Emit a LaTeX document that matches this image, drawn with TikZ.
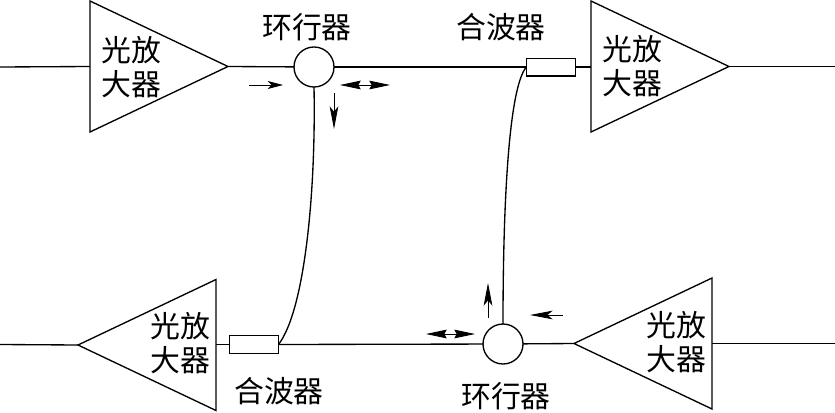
\documentclass[tikz,border=0pt]{standalone}
\usepackage{fontspec}
\newfontfamily\cjkfont{Noto Sans CJK SC}
\usetikzlibrary{shapes.geometric,arrows.meta}

\begin{document}
\begin{tikzpicture}[
    x=0.3mm,y=-0.3mm,
    amp/.style  = {isosceles triangle,isosceles triangle stretches,draw,line width=0.4mm,
                   inner sep=0pt,outer sep=0pt,minimum width=39.3mm,minimum height=41.4mm,
                   anchor=apex},
    circ/.style = {circle,draw,line width=0.4mm,inner sep=0pt,outer sep=0pt,minimum size=12mm},
    wdm/.style  = {rectangle,draw,line width=0.4mm,inner sep=0pt,outer sep=0pt,
                   minimum width=14.7mm,minimum height=5.3mm},
    lbl/.style  = {font=\cjkfont\fontsize{25.5}{29}\selectfont,inner sep=0pt,align=center},
    ln/.style   = {line width=0.4mm},
    fl/.style   = {-{Stealth[length=6.8mm,width=2.6mm,inset=1.6mm]},line width=0.25mm},
    fs/.style   = {-{Stealth[length=4.6mm,width=2.4mm,inset=1.2mm]},line width=0.25mm},
    dfl/.style  = {{Stealth[length=6.2mm,width=2.6mm,inset=0.7mm]}-{Stealth[length=6.2mm,width=2.6mm,inset=0.7mm]},
                   line width=0.25mm},
  ]
  \useasboundingbox (0,0) rectangle (835,412);

  % amplifiers
  \node[amp] (amp1) at (228,66.5) {};
  \node[amp] (amp2) at (729,66.5) {};
  \node[amp,shape border rotate=180] (amp3) at (78,345) {};
  \node[amp,shape border rotate=180] (amp4) at (574,343.5) {};

  \node[lbl] (t1) at (131,67)  {光放\\大器};
  \node[lbl] (t2) at (632,66)  {光放\\大器};
  \node[lbl] (t3) at (180,343) {光放\\大器};
  \node[lbl] (t4) at (676,342) {光放\\大器};

  % circulators and couplers
  \node[circ] (c1) at (314,67)  {};
  \node[circ] (c2) at (503,344) {};
  \node[wdm] (w1) at (551,67)  {};
  \node[wdm] (w2) at (254,344.5) {};

  \node[lbl] (l1) at (307,27)  {环行器};
  \node[lbl] (l2) at (501,27)  {合波器};
  \node[lbl] (l3) at (279,391) {合波器};
  \node[lbl] (l4) at (506,396) {环行器};

  \coordinate (in1) at (0,67);
  \coordinate (out1) at (835,66.5);
  \coordinate (in2) at (0,344.5);
  \coordinate (out2) at (835,343.5);

  \draw[ln] (in1) -- (amp1.lower side);
  \draw[ln] (amp1.apex) -- (c1);
  \draw[ln] (c1) -- (w1);
  \draw[ln] (w1.east) -- (w1.east -| amp2.lower side);
  \draw[ln] (amp2.apex) -- (out1);

  \draw[ln] (in2) -- (amp3.apex);
  \draw[ln] (w2.west -| amp3.lower side) -- (w2.west);
  \draw[ln] (w2.east) -- (c2);
  \draw[ln] (c2) -- (amp4.apex);
  \draw[ln] (amp4.lower side) -- (out2);

  % fibres between the two lines
  \draw[ln] (c1.south) .. controls (316,190) and (305,310) .. (w2.east);
  \draw[ln] (c2.north) .. controls (503,190) and (510,85) .. (w1.west);

  % signal directions
  \coordinate (a1) at (249,85);  \coordinate (b1) at (283,85);
  \coordinate (a2) at (340,85);  \coordinate (b2) at (390,85);
  \coordinate (a3) at (334,93);  \coordinate (b3) at (334,129);
  \coordinate (a4) at (488,318); \coordinate (b4) at (488,283);
  \coordinate (a5) at (563,315); \coordinate (b5) at (530,315);
  \coordinate (a6) at (426,334); \coordinate (b6) at (475,334);
  \draw[fs] (a1) -- (b1);
  \foreach \x/\y in {a3/b3,a4/b4,a5/b5} \draw[fl] (\x) -- (\y);
  \foreach \x/\y in {a2/b2,a6/b6} \draw[dfl] (\x) -- (\y);

\end{tikzpicture}
\end{document}
